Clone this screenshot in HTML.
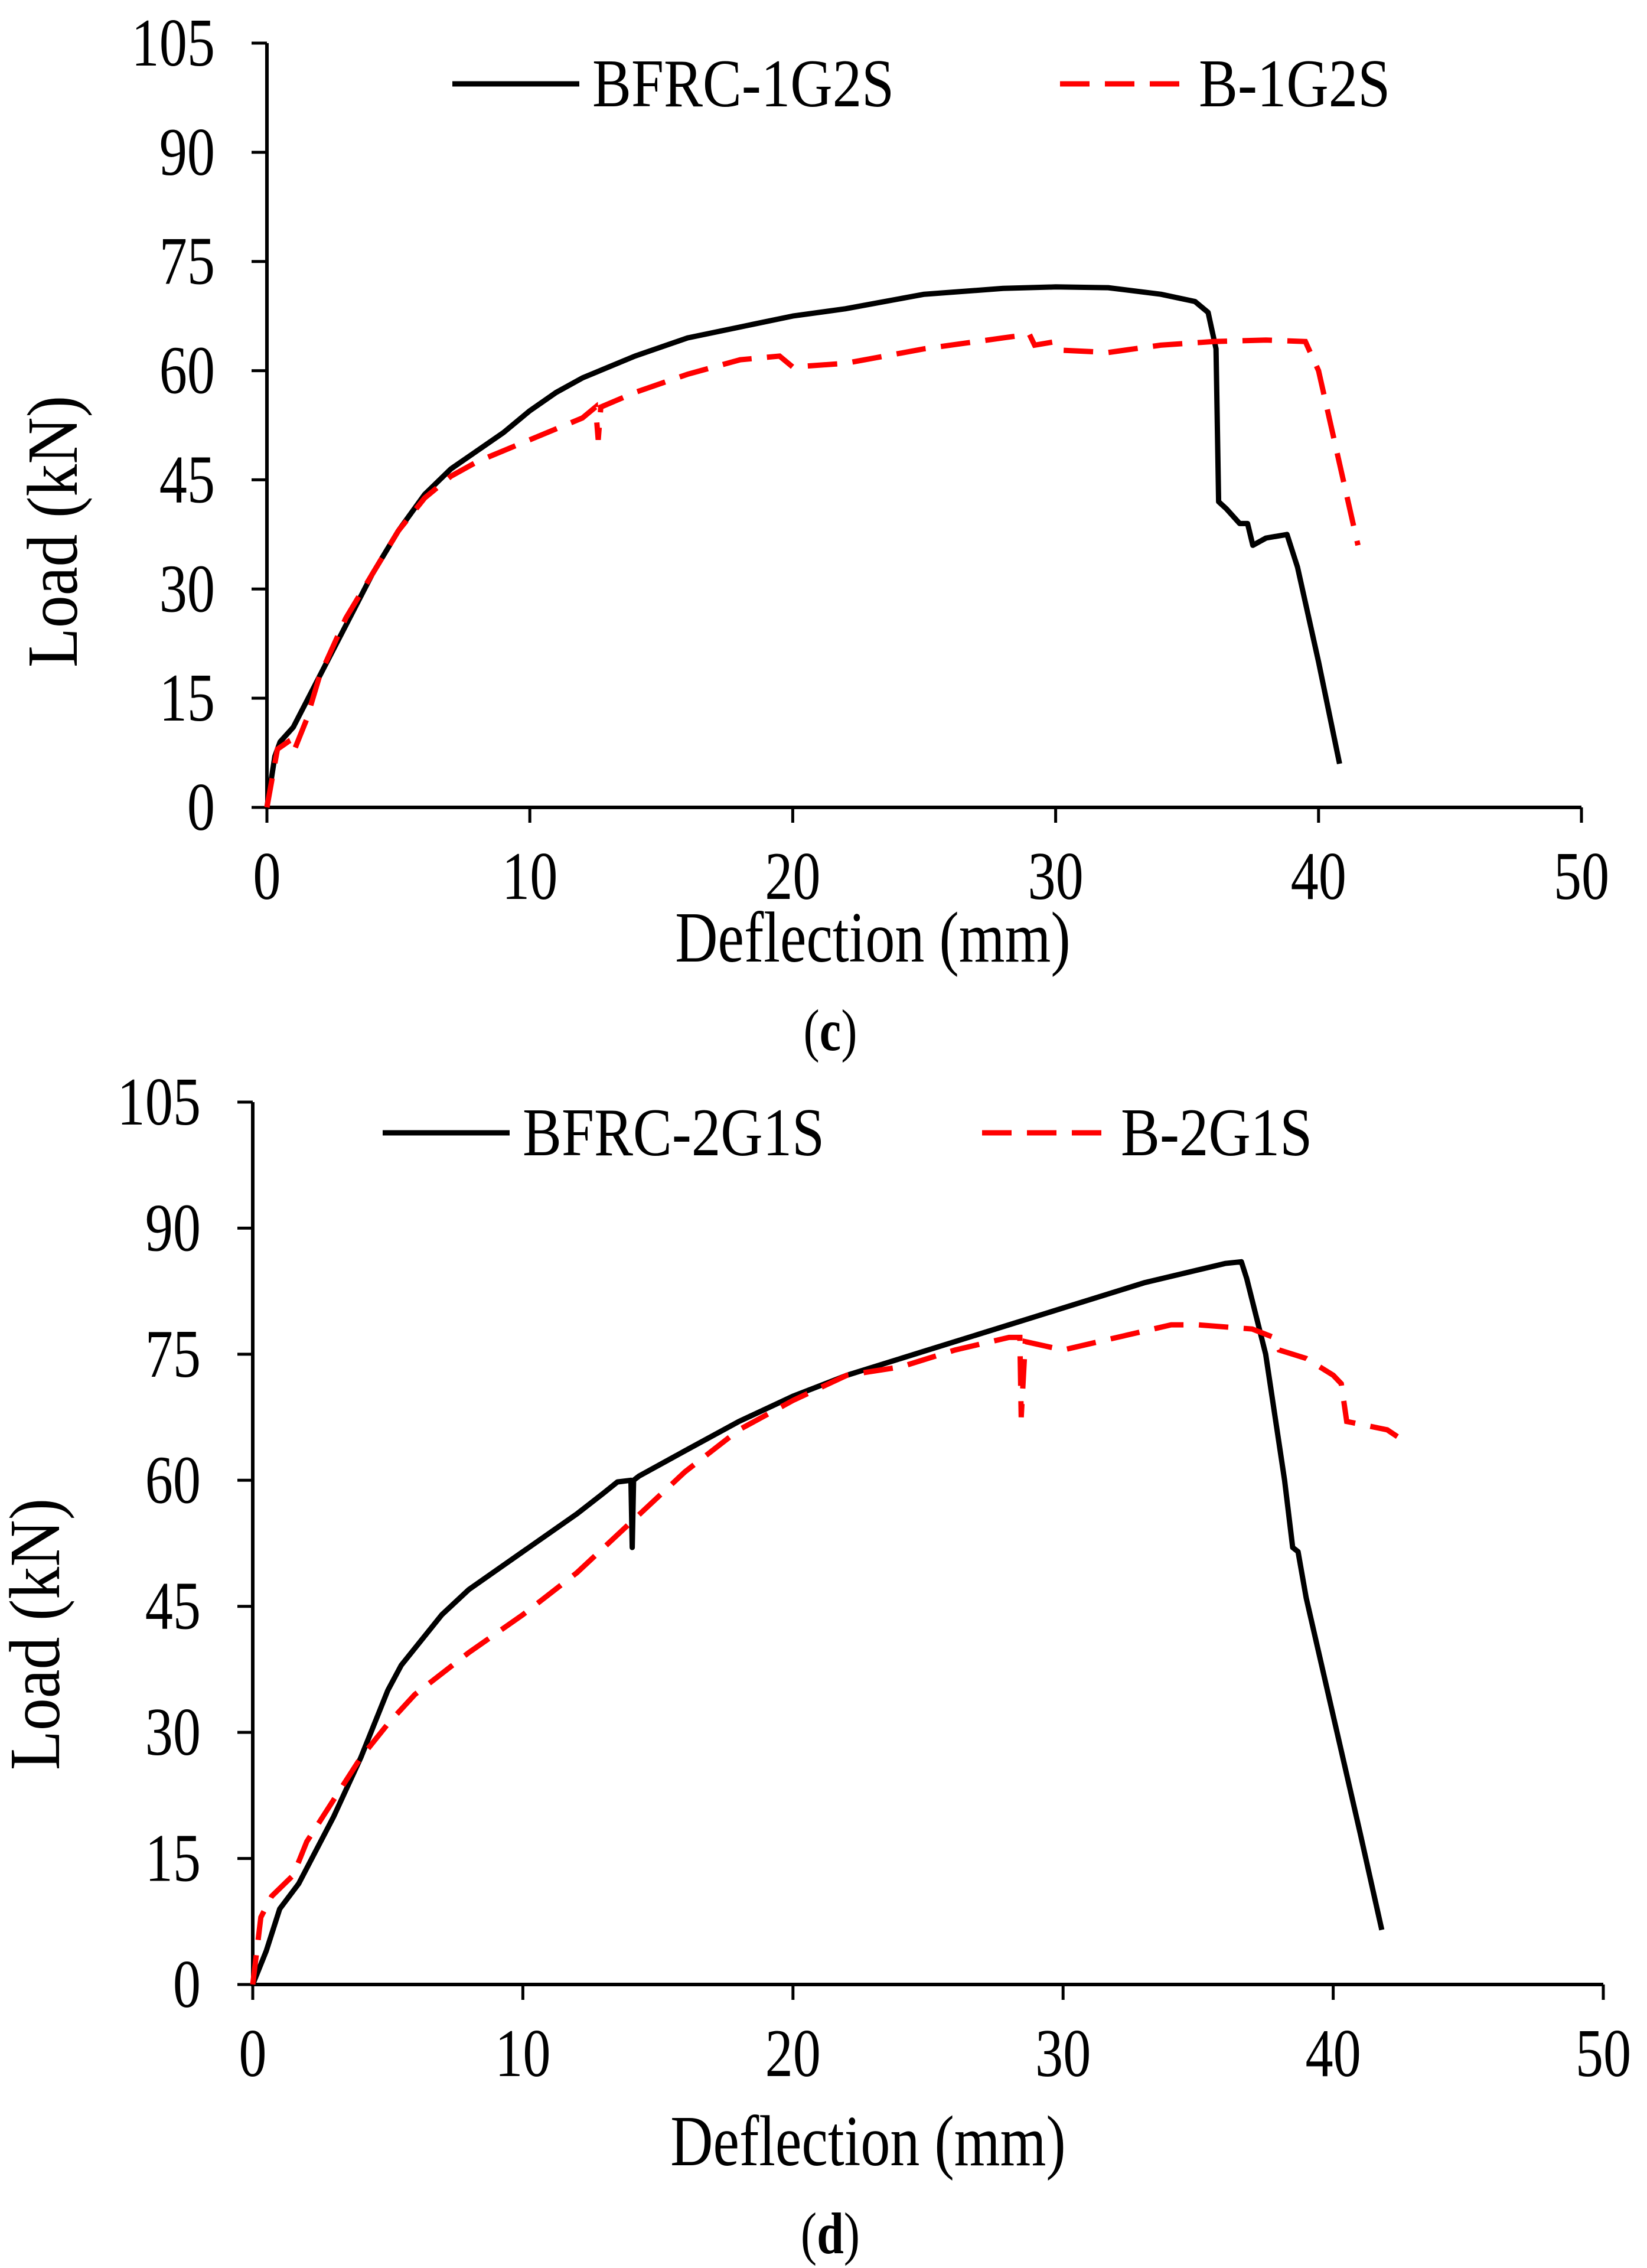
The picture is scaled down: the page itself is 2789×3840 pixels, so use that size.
<!DOCTYPE html>
<html><head><meta charset="utf-8"><style>
html,body{margin:0;padding:0;background:#fff;}
svg{display:block;font-family:"Liberation Serif",serif;}
</style></head><body>
<svg id="s" width="2789" height="3840" viewBox="0 0 2789 3840" xmlns="http://www.w3.org/2000/svg"></svg>
<script>
const xTicks=[0,10,20,30,40,50];
const yTicks=[0,15,30,45,60,75,90,105];
const c_bfrc_x=[0,0.3,0.5,1,2,3,4,5,6,7,8,9,10,11,12,14,16,18,20,22,25,28,30,32,34,35.3,35.8,36.1,36.2,36.5,37,37.3,37.5,38,38.8,39.2,40,40.8];
const c_bfrc_y=[0,7,9,11,18,25,32,38,43,46.5,49,51.5,54.5,57,59,62,64.5,66,67.5,68.5,70.5,71.3,71.5,71.4,70.5,69.5,68,63,42,41,39,39,36,37,37.5,33,20,6];
const c_b_x=[0,0.4,0.8,1,1.5,2,3,4,5,6,7,8,10,12,12.5,12.6,12.7,14,16,18,19.5,20,22,25,28,29,29.2,30,30.3,32,34,36,38,39.5,40,41.5];
const c_b_y=[0,8,9,7.5,12,18,26,32,38,42.5,45.5,47.5,50.5,53.5,55,50.5,55,57,59.5,61.5,62,60.5,61,63,64.5,65,63.5,64,62.8,62.5,63.5,64,64.2,64,60,36];
const d_bfrc_x=[0,0.5,1,1.7,3,4,5,5.5,7,8,10,12,13,13.5,14,14.05,14.1,14.3,16,18,20,22,25,28,30,33,36,36.6,36.8,37.5,38.2,38.5,38.7,39,40,41,41.8];
const d_bfrc_y=[0,4,9,12,20,27,35,38,44,47,51.5,56,58.5,59.8,60,52,60,60.5,63.5,67,70,72.5,75.5,78.5,80.5,83.5,85.8,86,84,75,60,52,51.5,46,32,18,6.5];
const d_b_x=[0,0.3,0.7,1.5,2,3,4,5,6,8,10,12,14,16,18,20,22,24,26,28,28.4,28.45,28.6,30,32,34,35,37,37.8,38,39,40,40.3,40.5,42,42.7];
const d_b_y=[0,8,10.5,13,17,22,27,31,34.5,39.5,44,49,55,61,66,69.5,72.5,73.5,75.5,77,77,67.5,76.5,75.5,77,78.5,78.5,78,77,75.5,74.5,72.5,71.5,67,66,64.5];

const NS="http://www.w3.org/2000/svg";
const svg=document.getElementById('s');
function el(t,a,p){const e=document.createElementNS(NS,t);for(const k in a)e.setAttribute(k,a[k]);(p||svg).appendChild(e);return e;}
function txt(p,x,y,s,size,sx,anchor,rot){
  const e=el('text',{x:0,y:0,'font-size':size,'text-anchor':anchor||'start',
    transform:`translate(${x},${y})${rot?' rotate(-90)':''} scale(${sx},1)`},p);
  e.textContent=s;return e;
}
function chart(cfg){
  const g=el('g',{});
  
  
  const X=v=>cfg.x0+(cfg.x1-cfg.x0)*v/50;
  const Y=v=>cfg.y0+(cfg.y1-cfg.y0)*v/105;
  const ax=el('path',{d:`M${X(0)},${Y(105)}V${Y(0)}H${X(50)}`,fill:'none',stroke:'#000','stroke-width':6},g);
  
  
  yTicks.forEach(t=>{
    el('line',{x1:X(0)-26,x2:X(0),y1:Y(t),y2:Y(t),stroke:'#000','stroke-width':5},g);
    const tx=txt(g,X(0)-88,Y(t)+38,String(t),115,0.82,'end');
    
    
  });
  xTicks.forEach(t=>{
    el('line',{x1:X(t),x2:X(t),y1:Y(0),y2:Y(0)+26,stroke:'#000','stroke-width':5},g);
    const tx=txt(g,X(t),Y(0)+155,String(t),115,0.82,'middle');
    
    
  });
  const xt=txt(g,cfg.xtx,cfg.xty,'Deflection (mm)',122,0.82,'middle');
  
  
  const yt=txt(g,cfg.ytx,cfg.yty,'Load (kN)',122,0.9,'middle',true);
  
  
  const mk=(xs,ys)=>xs.map((v,i)=>(i?'L':'M')+X(v).toFixed(1)+','+Y(ys[i]).toFixed(1)).join('');
  const l1=el('path',{d:mk(cfg.ax,cfg.ay),fill:'none',stroke:'#000','stroke-width':9,'stroke-linejoin':'round'},g);
  
  
  const l2=el('path',{d:mk(cfg.bx,cfg.by),fill:'none',stroke:'#ff0000','stroke-width':9,'stroke-dasharray':'50 26'},g);
  
  
  const lg=el('g',{},g);
  
  
  el('line',{x1:cfg.l1x,x2:cfg.l1x+215,y1:cfg.ly,y2:cfg.ly,stroke:'#000','stroke-width':9},lg);
  const t1=txt(lg,cfg.l1x+237,cfg.ly+38,cfg.n1,115,0.86);
  
  
  el('line',{x1:cfg.l2x,x2:cfg.l2x+215,y1:cfg.ly,y2:cfg.ly,stroke:'#ff0000','stroke-width':9,'stroke-dasharray':'50 26'},lg);
  const t2=txt(lg,cfg.l2x+235,cfg.ly+38,cfg.n2,115,0.86);
  
  
  const cap=el('text',{x:0,y:0,'text-anchor':'middle','font-size':100,transform:`translate(${cfg.cx},${cfg.cy}) scale(0.82,1)`},g);
  cap.innerHTML='(<tspan font-weight="bold">'+cfg.cap+'</tspan>)';
  
  
}
chart({name:'chart-c',x0:452,x1:2678,y0:1367,y1:73,ax:c_bfrc_x,ay:c_bfrc_y,bx:c_b_x,by:c_b_y,
  n1:'BFRC-1G2S',n2:'B-1G2S',l1x:766,l2x:1795,ly:142,xtx:1478,xty:1628,ytx:130,yty:900,cx:1406,cy:1778,cap:'c'});
chart({name:'chart-d',x0:428,x1:2715,y0:3360,y1:1866,ax:d_bfrc_x,ay:d_bfrc_y,bx:d_b_x,by:d_b_y,
  n1:'BFRC-2G1S',n2:'B-2G1S',l1x:648,l2x:1663,ly:1918,xtx:1470,xty:3666,ytx:100,yty:2767,cx:1406,cy:3815,cap:'d'});
</script>
</body></html>
